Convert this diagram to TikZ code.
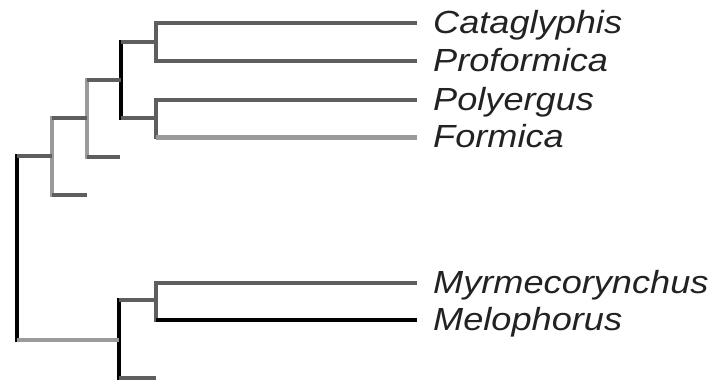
\documentclass[tikz,border=0pt]{standalone}
\usepackage{fontspec}
\setmainfont{Liberation Sans}
\newfontfamily\taxonfont[FakeStretch=1.13]{Liberation Sans}
\definecolor{darkbranch}{HTML}{5E5E5E}
\definecolor{midbranch}{HTML}{9A9A9A}
\definecolor{taxontext}{HTML}{222222}
\tikzset{
  branch/.style={line width=4pt},
  dkb/.style={branch, draw=darkbranch},
  mdb/.style={branch, draw=midbranch},
  bkb/.style={branch, draw=black},
  vert/.style={line cap=rect},
  taxon/.style={anchor=base west, inner sep=0pt, text=taxontext,
    font=\taxonfont\itshape\fontsize{32}{34}\selectfont}
}
\begin{document}
\begin{tikzpicture}[x=1pt,y=-1pt]
\useasboundingbox (0,0) rectangle (720,383);

% internal nodes of the tree
\coordinate (root) at (17,248);
\coordinate (n1) at (52,156);
\coordinate (n2) at (87,118);
\coordinate (n3) at (121,80);
\coordinate (n4) at (156,42);
\coordinate (n5) at (156,118);
\coordinate (n6) at (119,340);
\coordinate (n7) at (156,300);
% unlabelled stubs
\coordinate (s1) at (87,195);
\coordinate (s2) at (120,157);
\coordinate (s3) at (156,378);
% tips
\coordinate (cat) at (417,23);
\coordinate (pro) at (417,61);
\coordinate (pol) at (417,100);
\coordinate (for) at (417,137);
\coordinate (myr) at (417,283);
\coordinate (mel) at (417,320);

% vertical bars
\draw[bkb,vert] (root |- n1) -- (root |- n6);
\draw[mdb,vert] (n1 |- n2) -- (n1 |- s1);
\draw[mdb,vert] (n2 |- n3) -- (n2 |- s2);
\draw[bkb,vert] (n3 |- n4) -- (n3 |- n5);
\draw[dkb,vert] (n4 |- cat) -- (n4 |- pro);
\draw[dkb,vert] (n5 |- pol) -- (n5 |- for);
\draw[bkb,vert] (n6 |- n7) -- (n6 |- s3);
\draw[dkb,vert] (n7 |- myr) -- (n7 |- mel);

% horizontal branches
\draw[dkb] (root |- n1) -- (n1);
\draw[mdb] (root |- n6) -- (n6);
\draw[dkb] (n1 |- n2) -- (n2);
\draw[dkb] (n1 |- s1) -- (s1);
\draw[dkb] (n2 |- n3) -- (n3);
\draw[dkb] (n2 |- s2) -- (s2);
\draw[dkb] (n3 |- n4) -- (n4);
\draw[dkb] (n3 |- n5) -- (n5);
\draw[dkb] (n4 |- cat) -- (cat);
\draw[dkb] (n4 |- pro) -- (pro);
\draw[dkb] (n5 |- pol) -- (pol);
\draw[mdb, line width=5pt] (n5 |- for) -- (for);
\draw[dkb] (n6 |- n7) -- (n7);
\draw[dkb] (n6 |- s3) -- (s3);
\draw[dkb] (n7 |- myr) -- (myr);
\draw[bkb] (n7 |- mel) -- (mel);

% taxon labels
\node[taxon] (tcat) at ([xshift=16pt,yshift=-10pt]cat) {Cataglyphis};
\node[taxon] (tpro) at ([xshift=16pt,yshift=-10pt]pro) {Proformica};
\node[taxon] (tpol) at ([xshift=16pt,yshift=-10pt]pol) {Polyergus};
\node[taxon] (tfor) at ([xshift=16pt,yshift=-10pt]for) {Formica};
\node[taxon] (tmyr) at ([xshift=16pt,yshift=-10pt]myr) {Myrmecorynchus};
\node[taxon] (tmel) at ([xshift=16pt,yshift=-10pt]mel) {Melophorus};
\end{tikzpicture}
\end{document}
